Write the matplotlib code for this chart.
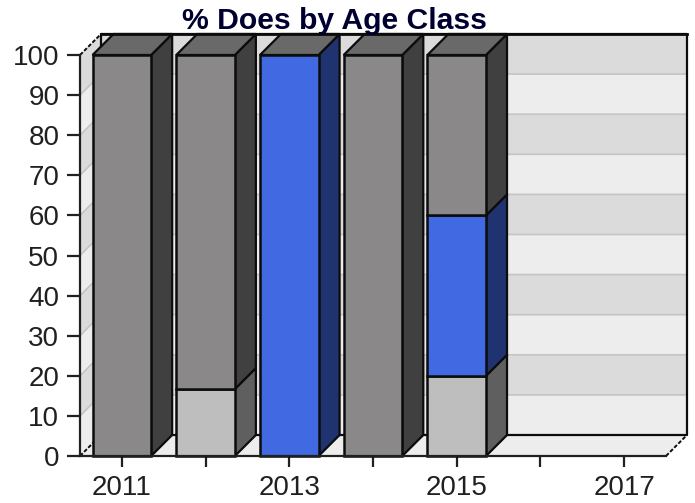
# plot.py

import matplotlib
matplotlib.use("Agg")
import matplotlib.pyplot as plt

years = ["2011", "", "2013", "", "2015", "", "2017"]
young = [0, 16.7, 0, 0, 20, 0, 0]
middle = [0, 0, 100, 0, 40, 0, 0]
old = [100, 83.3, 0, 100, 40, 0, 0]
yticks = [0, 10, 20, 30, 40, 50, 60, 70, 80, 90, 100]

W, H = 695, 503
LEFT, RIGHT, TOP, BOTTOM = 80, 666, 55, 456
BAR_W = 0.70

# front colour, side colour
STYLES = [
    ("#BEBEBE", "#5F5F5F"),
    ("#4169E1", "#1F3370"),
    ("#8A8888", "#404040"),
]
TOP_FACE = "#6A6969"
INK = "#0C0C0C"

plt.rcParams["font.family"] = ["Liberation Sans", "DejaVu Sans"]

fig = plt.figure(figsize=(W / 100, H / 100), dpi=100)
ax = fig.add_axes([LEFT / W, 1 - BOTTOM / H, (RIGHT - LEFT) / W, (BOTTOM - TOP) / H])
ax.set_xlim(-0.5, 6.5)
ax.set_ylim(0, 100)

# depth of the fake 3d box, in data units
dx = 21 / ((RIGHT - LEFT) / 7)
dy = 21 / ((BOTTOM - TOP) / 100)


def poly(xs, ys, color, z, lw=1.6, edge=INK):
    ax.fill(xs, ys, facecolor=color, edgecolor=edge, linewidth=lw,
            zorder=z, clip_on=False, joinstyle="miter")


# ==================================================
# walls
# ==================================================
x0, x1 = -0.5, 6.5
for i in range(10):
    band = "#DBDBDB" if i % 2 else "#EDEDED"
    lo, hi = yticks[i], yticks[i + 1]
    poly([x0 + dx, x1 + dx, x1 + dx, x0 + dx],
         [lo + dy, lo + dy, hi + dy, hi + dy], band, 1, lw=0)
    poly([x0, x0 + dx, x0 + dx, x0], [lo, lo + dy, hi + dy, hi], band, 1, lw=0)
    if i > 0:
        ax.plot([x0, x0 + dx, x1 + dx], [lo, lo + dy, lo + dy], color="#C4C4C4",
                lw=1.2, zorder=1.5, clip_on=False)
poly([x0, x1, x1 + dx, x0 + dx], [0, 0, dy, dy], "#EDEDED", 2, lw=0)
ax.plot([x0 + dx, x0 + dx, x1 + dx, x1 + dx, x0 + dx],
        [dy, 100 + dy, 100 + dy, dy, dy], color=INK, lw=1.6, zorder=2.5, clip_on=False)
for px, py in [(x1, 0), (x0, 100), (x0, 0)]:
    ax.plot([px, px + dx], [py, py + dy], color=INK, lw=1.4, ls=(0, (2, 1)),
            zorder=2.5, clip_on=False)

# ==================================================
# stacked bars
# ==================================================
for i in range(len(years)):
    base = 0
    for vals, (front, side) in zip([young, middle, old], STYLES):
        v = vals[i]
        if v == 0:
            continue
        xl, xr = i - BAR_W / 2, i + BAR_W / 2
        ax.bar(i, v, BAR_W, bottom=base, color=front, edgecolor=INK,
               linewidth=1.8, zorder=4, clip_on=False)
        poly([xr, xr + dx, xr + dx, xr],
             [base, base + dy, base + v + dy, base + v], side, 3.5)
        base += v
    if base > 0:
        xl, xr = i - BAR_W / 2, i + BAR_W / 2
        poly([xl, xl + dx, xr + dx, xr], [100, 100 + dy, 100 + dy, 100], TOP_FACE, 3.5)

# heavy line along the top of the box, over the bar tops
ax.plot([x0 + dx, x1 + dx], [100 + dy, 100 + dy], color=INK, lw=2, zorder=6, clip_on=False)

# ==================================================
# axes and text
# ==================================================
for name in ["top", "right"]:
    ax.spines[name].set_visible(False)
for name in ["left", "bottom"]:
    ax.spines[name].set_linewidth(1.6)
    ax.spines[name].set_color("#202020")
    ax.spines[name].set_zorder(5)

ax.patch.set_visible(False)
ax.set_xticks(range(len(years)))
ax.set_xticklabels(years)
ax.set_yticks(yticks)
ax.tick_params(axis="x", length=8, width=1.6, pad=6, labelsize=20, colors="#202020")
ax.tick_params(axis="y", length=9.4, width=1.6, pad=5.5, labelsize=20, colors="#202020")

fig.text(334 / W, 1 - 29 / H, "% Does by Age Class", ha="center", va="baseline",
         fontsize=21.7, fontweight="bold", color="#000030", zorder=1)

plt.savefig("out.png", dpi=100)
